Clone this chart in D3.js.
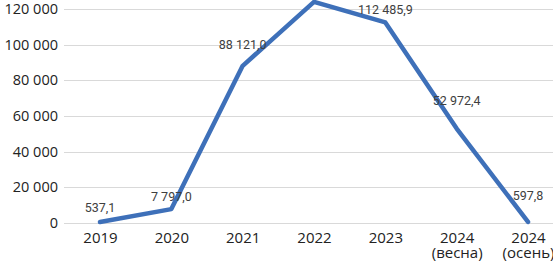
<!DOCTYPE html>
<html>
<head>
<meta charset="utf-8">
<script src="https://cdn.jsdelivr.net/npm/d3@7"></script>
<style>
  body { margin: 0; background: #fff; }
  svg { display: block; }
</style>
</head>
<body>
<div id="chart"></div>
<script>
// line chart, values
const categories = ['2019', '2020', '2021', '2022', '2023', '2024\n(весна)', '2024\n(осень)'];
const values = [537.1, 7797.0, 88121.0, 124000, 112485.9, 52972.4, 597.8];
const valueLabels = ['537,1', '7 797,0', '88 121,0', '', '112 485,9', '52 972,4', '597,8'];
const yTicks = [0, 20000, 40000, 60000, 80000, 100000, 120000];

(function() {
  const width = 553;
  const height = 261;

  const svg = d3.select('#chart')
    .append('svg')
    .attr('width', width)
    .attr('height', height);

  const x = d3.scalePoint()
    .domain(categories)
    .range([100, 528]);

  const y = d3.scaleLinear()
    .domain([0, 120000])
    .range([223, 9]);

  const fmt = v => d3.format(',')(v).replace(/,/g, ' ');

  // gridlines
  svg.append('g')
    .selectAll('line')
    .data(yTicks)
    .enter()
    .append('line')
    .attr('x1', 64)
    .attr('x2', width)
    .attr('y1', d => Math.round(y(d)) + 0.5)
    .attr('y2', d => Math.round(y(d)) + 0.5)
    .attr('stroke', '#d9d9d9')
    .attr('stroke-width', 1.2);

  // y axis
  const yAxis = svg.append('g')
    .attr('transform', 'translate(58,0)')
    .call(d3.axisLeft(y).tickValues(yTicks).tickFormat(fmt).tickSize(0).tickPadding(0));
  yAxis.select('.domain').remove();
  yAxis.selectAll('text')
    .style('font-family', '"Open Sans", sans-serif')
    .style('font-size', '14.5px')
    .attr('fill', '#222');

  // x axis
  const xAxis = svg.append('g')
    .attr('transform', 'translate(0,223)')
    .call(d3.axisBottom(x).tickSize(0).tickPadding(0).tickFormat(''));
  xAxis.select('.domain').remove();
  xAxis.selectAll('.tick').each(function(d) {
    const lines = d.split('\n');
    const t = d3.select(this).append('text')
      .attr('fill', '#222')
      .attr('text-anchor', 'middle')
      .style('font-family', '"Open Sans", sans-serif')
      .style('font-size', '15px');
    lines.forEach((s, i) => {
      t.append('tspan').attr('x', 0).attr('y', 20 + i * 15).text(s);
    });
  });

  const pts = categories.map((c, i) => ({ c, v: values[i], label: valueLabels[i] }));

  const line = d3.line()
    .x(d => x(d.c))
    .y(d => y(d.v));

  svg.append('path')
    .datum(pts)
    .attr('d', line)
    .attr('fill', 'none')
    .attr('stroke', '#3e70b9')
    .attr('stroke-width', 4.5)
    .attr('stroke-linejoin', 'round')
    .attr('stroke-linecap', 'round');

  // data labels, hand-placed offsets like the original
  const dx = [0, 0, 0, 0, 0, 0, 0];
  const dy = [-10, -8, -17, 0, -8, -24, -22];
  svg.append('g')
    .selectAll('text')
    .data(pts)
    .enter()
    .append('text')
    .attr('x', (d, i) => x(d.c) + dx[i])
    .attr('y', (d, i) => y(d.v) + dy[i])
    .attr('text-anchor', 'middle')
    .attr('fill', '#404040')
    .style('font-family', '"Liberation Sans Narrow", "Roboto", sans-serif')
    .style('font-size', '12.5px')
    .text(d => d.label);
})();
</script>
</body>
</html>
